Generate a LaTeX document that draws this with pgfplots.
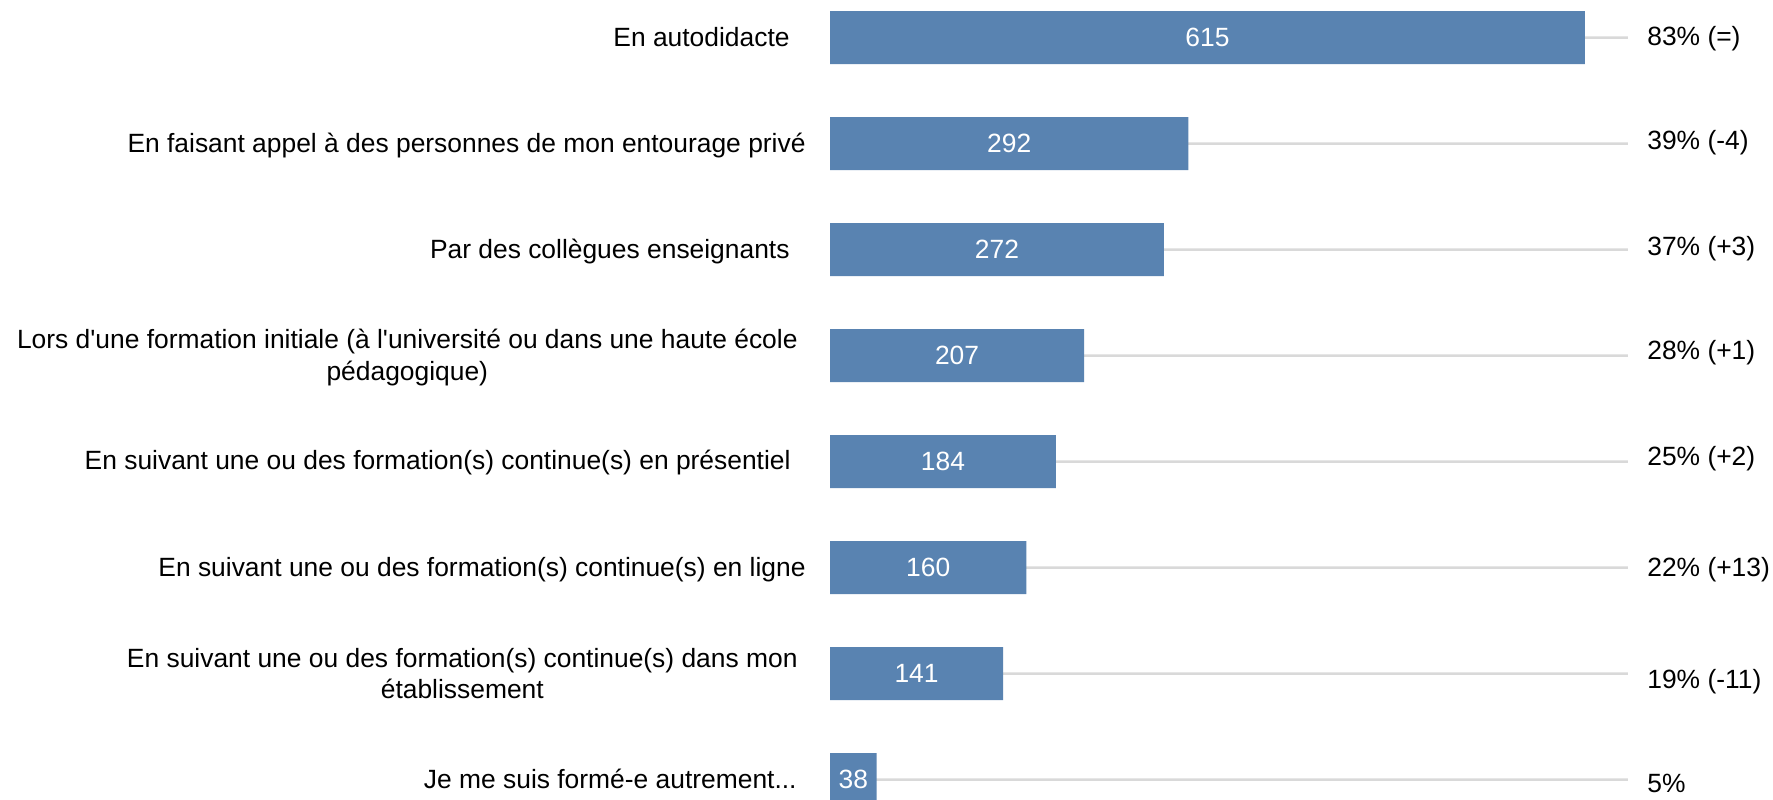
\documentclass[border=0pt]{standalone}
\usepackage{fontspec}
\setmainfont{Liberation Sans}
\usepackage{pgfplots}
\pgfplotsset{compat=1.18}
\usepackage{pgfplotstable}
\definecolor{barblue}{RGB}{89,131,177}
\definecolor{linegray}{RGB}{217,217,217}

\pgfplotstableread[col sep=comma]{
x,y,lab
665.5,0.080,83\% (=)
665.5,1.061,39\% (-4)
665.5,2.052,37\% (+3)
665.5,3.042,28\% (+1)
665.5,4.033,25\% (+2)
665.5,5.087,22\% (+13)
665.5,6.146,19\% (-11)
665.5,7.127,5\%
}\rightlabels

\pgfplotstableread[col sep=comma]{
x,y,lab
307.5,0,615
146,1,292
136,2,272
103.5,3,207
92,4,184
80,5,160
70.5,6,141
19,7,38
}\valuelabels

\newcommand{\lf}{\fontsize{13.2}{15.75}\selectfont}
\newcommand{\q}{\textquotesingle}

\begin{document}
\begin{tikzpicture}
\begin{axis}[
  x=0.6138pt, y=53pt,
  y dir=reverse,
  xmin=-676.11, xmax=768.17,
  ymin=-0.35377, ymax=7.1840,
  axis lines=none, ticks=none,
  clip=true,
]
% gray guide lines
\addplot[xbar, bar width=1.25pt, bar shift=0pt, fill=linegray, draw=none]
  coordinates {(650,0) (650,1) (650,2) (650,3) (650,4) (650,5) (650,6) (650,7)};
% bars
\addplot[xbar, bar width=26.5pt, bar shift=0pt, fill=barblue, draw=none]
  coordinates {(615,0) (292,1) (272,2) (207,3) (184,4) (160,5) (141,6) (38,7)};
% values inside bars
\addplot[draw=none, mark=none, nodes near coords, point meta=explicit symbolic,
  nodes near coords style={anchor=center, text=white, font=\lf, inner sep=0pt}]
  table[x=x, y=y, meta=lab] {\valuelabels};
% right labels
\addplot[draw=none, mark=none, nodes near coords, point meta=explicit symbolic,
  nodes near coords style={anchor=base west, text=black, font=\lf, inner sep=0pt}]
  table[x=x, y=y, meta=lab] {\rightlabels};
% left category labels
\node[anchor=base east, inner sep=0pt, font=\lf] at (axis cs:-32.6,0.085) {En autodidacte};
\node[anchor=base east, inner sep=0pt, font=\lf] at (axis cs:-19.55,1.085) {En faisant appel à des personnes de mon entourage privé};
\node[anchor=base east, inner sep=0pt, font=\lf] at (axis cs:-32.6,2.085) {Par des collègues enseignants};
\node[anchor=base east, inner sep=0pt, font=\lf] at (axis cs:-26.07,2.936) {\begin{tabular}[t]{@{}c@{}}Lors d\q une formation initiale (à l\q université ou dans une haute école\\pédagogique)\end{tabular}};
\node[anchor=base east, inner sep=0pt, font=\lf] at (axis cs:-31.77,4.080) {En suivant une ou des formation(s) continue(s) en présentiel};
\node[anchor=base east, inner sep=0pt, font=\lf] at (axis cs:-19.55,5.085) {En suivant une ou des formation(s) continue(s) en ligne};
\node[anchor=base east, inner sep=0pt, font=\lf] at (axis cs:-26.07,5.939) {\begin{tabular}[t]{@{}c@{}}En suivant une ou des formation(s) continue(s) dans mon\\établissement\end{tabular}};
\node[anchor=base east, inner sep=0pt, font=\lf] at (axis cs:-26.88,7.085) {Je me suis formé-e autrement...};
\end{axis}
\pgfresetboundingbox
\useasboundingbox (current axis.south west) rectangle (current axis.north east);
\end{tikzpicture}
\end{document}
